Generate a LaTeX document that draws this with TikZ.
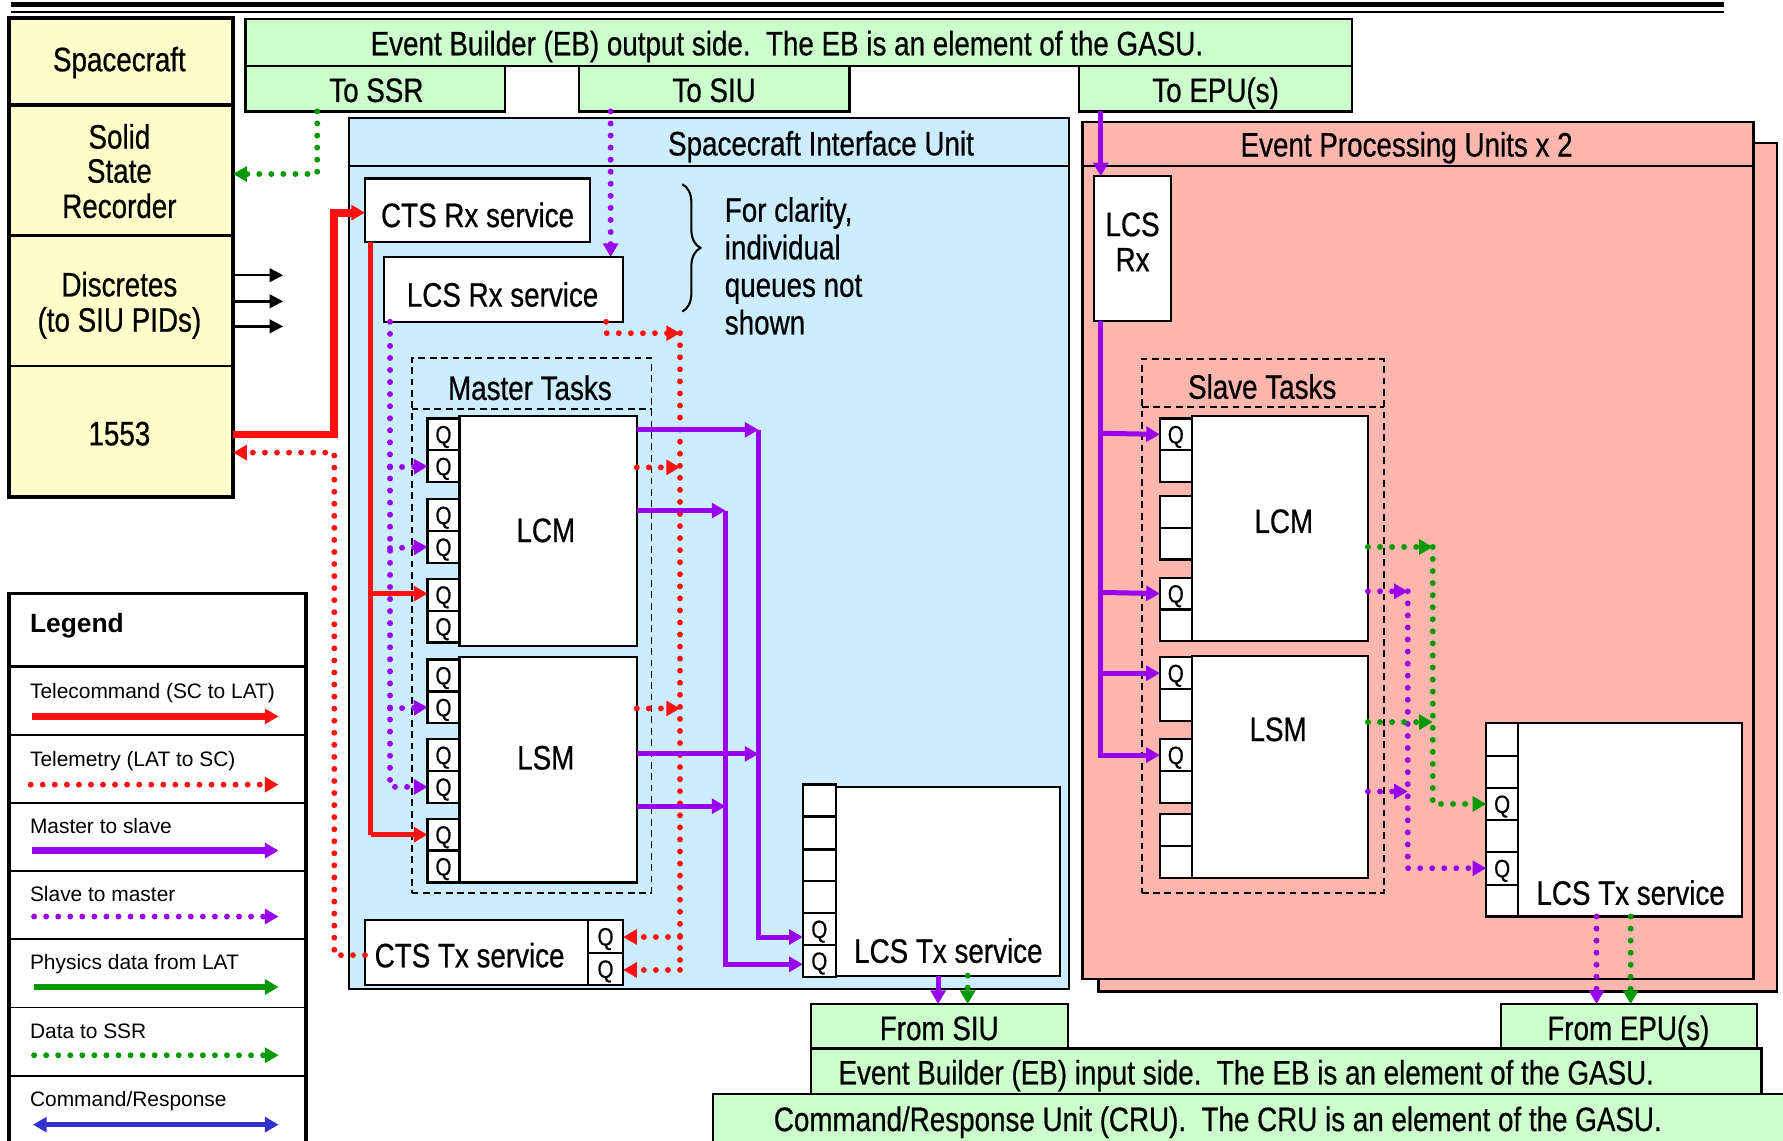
\documentclass[tikz,border=0pt]{standalone}
\usepackage{fontspec}
\setmainfont{Liberation Sans}[FakeStretch=0.82,FakeBold=0.6]
\newfontfamily\legfont{Liberation Sans}
\usetikzlibrary{arrows.meta,decorations.pathreplacing,calc}
\definecolor{scyel}{HTML}{FFFFCC}
\definecolor{ebgrn}{HTML}{CCFFCC}
\definecolor{siublu}{HTML}{CCECFF}
\definecolor{epupnk}{HTML}{FCB6AE}
\definecolor{tcred}{HTML}{FF1111}
\definecolor{mspur}{HTML}{9900EE}
\definecolor{phgrn}{HTML}{009900}
\definecolor{crblu}{HTML}{3333CC}
\newcommand\mainsz{\fontsize{14.9}{17}\selectfont}
\newcommand\qsz{\fontsize{11}{12}\selectfont}
\newcommand\bx[7]{\node[#2, anchor=north west, minimum width={(#5-#3)*0.5pt}, minimum height={(#6-#4)*0.5pt}] (#1) at (#3,#4) {#7};}
\tikzset{
 bxs/.style={draw, line width=1pt, inner sep=0pt, outer sep=0pt},
 wbox/.style={bxs, fill=white},
 ybox/.style={bxs, fill=scyel},
 gbox/.style={bxs, fill=ebgrn},
 sbox/.style={bxs, fill=siublu},
 pbox/.style={bxs, fill=epupnk},
 dbox/.style={draw, line width=0.8pt, dash pattern=on 3pt off 2pt, inner sep=0pt, outer sep=0pt},
 qcell/.style={bxs, fill=white, font=\qsz, text height=7.9pt, text depth=0pt},
 lbl/.style={inner sep=0pt, font=\mainsz, text height=10.65pt, text depth=0pt},
 lgt/.style={inner sep=0pt, font=\legfont\fontsize{9.2}{11}\selectfont, anchor=base west},
 tipa/.style={-{Triangle[length=6pt,width=6.5pt]}},
 solidln/.style={line width=2.2pt, tipa},
 dotln/.style={line width=2.6pt, dash pattern=on 0pt off 5.3pt, line cap=round, tipa},
 rsol/.style={solidln, draw=tcred},
 rdot/.style={dotln, draw=tcred},
 psol/.style={solidln, draw=mspur},
 pdot/.style={dotln, draw=mspur},
 gsol/.style={solidln, draw=phgrn},
 gdot/.style={dotln, draw=phgrn},
 bsol/.style={line width=2.4pt, draw=crblu, {Triangle[length=6pt,width=6.5pt]}-{Triangle[length=6pt,width=6.5pt]}},
 blk/.style={draw=black, line width=1.1pt, -{Triangle[length=6pt,width=6pt]}},
}
\begin{document}
\begin{tikzpicture}[x=0.5pt,y=-0.5pt]
\useasboundingbox (0,0) rectangle (1568,1003);
\fill[white] (0,0) rectangle (1568,1003);
% top rule
\draw[line width=2.5pt] (10,4) -- (1516,4);
\draw[line width=0.8pt] (10,10.5) -- (1516,10.5);

% ---------- Spacecraft column
\bx{sc}{ybox}{8}{16}{205}{92}{}
\bx{ssr}{ybox}{8}{92}{205}{207}{}
\bx{disc}{ybox}{8}{207}{205}{322}{}
\bx{bus1553}{ybox}{8}{322}{205}{437}{}
\draw[line width=1.8pt] (8,16) rectangle (205,437);
\draw[line width=1.8pt] (8,92) -- (205,92);
\node[lbl] (tsc) at (105,52) {Spacecraft};
\node[lbl] (tssr1) at (105,120) {Solid};
\node[lbl] (tssr2) at (105,150) {State};
\node[lbl] (tssr3) at (105,181) {Recorder};
\node[lbl] (tdisc1) at (105,250) {Discretes};
\node[lbl] (tdisc2) at (105,281) {(to SIU PIDs)};
\node[lbl] (t1553) at (105,381) {1553};

% ---------- EB output side
\bx{ebout}{gbox}{216}{17}{1189}{58}{}
\bx{tossr}{gbox}{216}{58}{444}{98}{}
\bx{tosiu}{gbox}{509}{58}{747}{98}{}
\bx{toepu}{gbox}{949}{58}{1189}{98}{}
\node[lbl] (tebout) at (692,38) {Event Builder (EB) output side.\ \ The EB is an element of the GASU.};
\node[lbl] (ttossr) at (331,79) {To SSR};
\node[lbl] (ttosiu) at (628,79) {To SIU};
\node[lbl] (ttoepu) at (1069,79) {To EPU(s)};

% ---------- SIU
\bx{siu}{sbox}{307}{104}{940}{870}{}
\draw[line width=1pt] (307,146) -- (940,146);
\node[lbl] (tsiu) at (722,126) {Spacecraft Interface Unit};
\bx{ctsrx}{wbox}{321}{157}{519}{213}{}
\node[lbl] (tctsrx) at (420,189) {CTS Rx service};
\bx{lcsrx}{wbox}{338}{226}{548}{283}{}
\node[lbl] (tlcsrx) at (442,259) {LCS Rx service};
\draw[decorate, decoration={brace, amplitude=8pt}, line width=0.9pt] (600,162) -- (600,274);
\node[lbl, anchor=base west] (tcl1) at (637,195) {For clarity,};
\node[lbl, anchor=base west] (tcl2) at (637,228) {individual};
\node[lbl, anchor=base west] (tcl3) at (637,261) {queues not};
\node[lbl, anchor=base west] (tcl4) at (637,294) {shown};

\bx{mtasks}{dbox}{362}{315}{573}{785}{}
\draw[dbox] (362,360) -- (573,360);
\node[lbl] (tmt) at (466,341) {Master Tasks};

\bx{lcm}{wbox}{404}{366}{560}{568}{}
\node[lbl] (tlcm) at (480,466) {LCM};
\bx{lcmq1}{qcell}{376}{368}{404}{396}{Q}
\bx{lcmq2}{qcell}{376}{396}{404}{424}{Q}
\bx{lcmq3}{qcell}{376}{439}{404}{467}{Q}
\bx{lcmq4}{qcell}{376}{467}{404}{495}{Q}
\bx{lcmq5}{qcell}{376}{509}{404}{537}{Q}
\bx{lcmq6}{qcell}{376}{537}{404}{565}{Q}

\bx{lsm}{wbox}{404}{578}{560}{776}{}
\node[lbl] (tlsm) at (480,666) {LSM};
\bx{lsmq1}{qcell}{376}{580}{404}{608}{Q}
\bx{lsmq2}{qcell}{376}{608}{404}{636}{Q}
\bx{lsmq3}{qcell}{376}{650}{404}{678}{Q}
\bx{lsmq4}{qcell}{376}{678}{404}{706}{Q}
\bx{lsmq5}{qcell}{376}{720}{404}{748}{Q}
\bx{lsmq6}{qcell}{376}{748}{404}{776}{Q}

\bx{ctstx}{wbox}{321}{809}{517}{866}{}
\node[lbl] (tctstx) at (413,840) {CTS Tx service};
\bx{ctsq1}{qcell}{517}{809}{548}{838}{Q}
\bx{ctsq2}{qcell}{517}{838}{548}{866}{Q}

\bx{stx}{wbox}{735}{692}{932}{858}{}
\node[lbl] (tstx) at (834,836) {LCS Tx service};
\bx{stxq1}{qcell}{706}{690}{735}{718}{}
\bx{stxq2}{qcell}{706}{718}{735}{747}{}
\bx{stxq3}{qcell}{706}{747}{735}{775}{}
\bx{stxq4}{qcell}{706}{775}{735}{803}{}
\bx{stxq5}{qcell}{706}{803}{735}{831}{Q}
\bx{stxq6}{qcell}{706}{831}{735}{859}{Q}

% ---------- EPU
\bx{epub}{pbox}{966}{126}{1563}{872}{}
\bx{epu}{pbox}{952}{107}{1542}{861}{}
\draw[line width=1pt] (952,146) -- (1542,146);
\node[lbl] (tepu) at (1237,127) {Event Processing Units x 2};
\bx{elcsrx}{wbox}{962}{155}{1030}{282}{}
\node[lbl] (telcs1) at (996,197) {LCS};
\node[lbl] (telcs2) at (996,228) {Rx};

\bx{stasks}{dbox}{1004}{316}{1217}{785}{}
\draw[dbox] (1004,358) -- (1217,358);
\node[lbl] (tst) at (1110,340) {Slave Tasks};

\bx{slcm}{wbox}{1048}{366}{1203}{564}{}
\node[lbl] (tslcm) at (1129,458) {LCM};
\bx{slq1}{qcell}{1020}{368}{1048}{396}{Q}
\bx{slq2}{qcell}{1020}{396}{1048}{424}{}
\bx{slq3}{qcell}{1020}{436}{1048}{464}{}
\bx{slq4}{qcell}{1020}{464}{1048}{492}{}
\bx{slq5}{qcell}{1020}{508}{1048}{536}{Q}
\bx{slq6}{qcell}{1020}{536}{1048}{564}{}

\bx{slsm}{wbox}{1048}{577}{1203}{772}{}
\node[lbl] (tslsm) at (1124,641) {LSM};
\bx{ssq1}{qcell}{1020}{578}{1048}{606}{Q}
\bx{ssq2}{qcell}{1020}{606}{1048}{634}{}
\bx{ssq3}{qcell}{1020}{650}{1048}{678}{Q}
\bx{ssq4}{qcell}{1020}{678}{1048}{706}{}
\bx{ssq5}{qcell}{1020}{716}{1048}{744}{}
\bx{ssq6}{qcell}{1020}{744}{1048}{772}{}

\bx{etx}{wbox}{1335}{636}{1532}{806}{}
\node[lbl] (tetx) at (1434,785) {LCS Tx service};
\bx{etq1}{qcell}{1307}{636}{1335}{665}{}
\bx{etq2}{qcell}{1307}{665}{1335}{693}{}
\bx{etq3}{qcell}{1307}{693}{1335}{721}{Q}
\bx{etq4}{qcell}{1307}{721}{1335}{749}{}
\bx{etq5}{qcell}{1307}{749}{1335}{778}{Q}
\bx{etq6}{qcell}{1307}{778}{1335}{806}{}

% ---------- EB input / CRU
\bx{cru}{gbox}{627}{962}{1580}{1015}{}
\bx{ebin}{gbox}{713}{922}{1549}{962}{}
\bx{fromsiu}{gbox}{713}{883}{939}{922}{}
\bx{fromepu}{gbox}{1320}{883}{1545}{922}{}
\node[lbl] (tfromsiu) at (826,904) {From SIU};
\node[lbl] (tfromepu) at (1432,904) {From EPU(s)};
\node[lbl] (tebin) at (1096,943) {Event Builder (EB) input side.\ \ The EB is an element of the GASU.};
\node[lbl] (tcru) at (1071,984) {Command/Response Unit (CRU).\ \ The CRU is an element of the GASU.};

% ---------- junction coordinates
\coordinate (rj1) at (326,522);
\coordinate (tbtop) at (598,293);
\coordinate (tbbot) at (598,853);
\coordinate (tb1) at (598,824);
\coordinate (mj1) at (667,378);
\coordinate (mj2) at (638,449);
\coordinate (sv1) at (343,411);
\coordinate (sv2) at (343,482);
\coordinate (sv3) at (343,623);
\coordinate (eb1) at (968,381);
\coordinate (eb2) at (968,521);
\coordinate (eb3) at (968,592);
\coordinate (ep1) at (1238,520);
\coordinate (eg1) at (1260,481);

% ---------- connectors
% data to SSR
\draw[gdot] (tossr.south -| 279,0) |- (ssr.east |- 0,153);
% discretes
\draw[blk] (disc.east |- 0,242) -- (249,242);
\draw[blk] (disc.east |- 0,265) -- (249,265);
\draw[blk] (disc.east |- 0,287) -- (249,287);
% telecommand
\draw[rsol, line width=3.4pt] (bus1553.east |- 0,382) -| (294,187) -- (ctsrx.west |- 0,187);
\draw[rsol, line width=2pt, -] (ctsrx.south -| 326,0) -- (326,734);
\draw[rsol] (326,734) -- (lsmq5.west |- 0,734);
\draw[rsol] (rj1) -- (lcmq5.west |- 0,522);
% telemetry
\draw[rdot] (ctstx.west |- 0,840) -| (294,398) -- (bus1553.east |- 0,398);
\draw[rdot] (lcsrx.south -| 533,0) |- (tbtop);
\draw[rdot, -] (tbtop) -- (tbbot);
\draw[rdot] (lcm.east |- 0,411) -- (tbtop |- 0,411);
\draw[rdot] (lsm.east |- 0,623) -- (tbtop |- 0,623);
\draw[rdot] (tb1) -- (ctsq1.east |- 0,824);
\draw[rdot] (tbbot) -- (ctsq2.east |- 0,853);
% slave to master (SIU)
\draw[pdot] (tosiu.south -| 537,0) -- (lcsrx.north -| 537,0);
\draw[pdot] (lcsrx.south -| 343,0) |- (lsmq4.west);
\draw[pdot] (sv1) -- (lcmq2.west);
\draw[pdot] (sv2) -- (lcmq4.west);
\draw[pdot] (sv3) -- (lsmq2.west);
% master to slave (SIU)
\draw[psol] (lcm.east |- 0,378) -- (mj1);
\draw[psol] (lcm.east |- 0,449) -- (mj2);
\draw[psol] (lsm.east |- 0,663) -- (mj1 |- 0,663);
\draw[psol] (lsm.east |- 0,709) -- (mj2 |- 0,709);
\draw[psol] (mj1) |- (stxq5.west |- 0,824);
\draw[psol] (mj2) |- (stxq6.west |- 0,848);
\draw[psol] (stx.south -| 825,0) -- (fromsiu.north -| 825,0);
\draw[gdot] (stx.south -| 851,0) -- (fromsiu.north -| 851,0);
% EPU
\draw[psol] (toepu.south -| 968,0) -- (elcsrx.north -| 968,0);
\draw[psol] (elcsrx.south -| 968,0) |- (ssq3.west);
\draw[psol] (eb1) -- (slq1.west);
\draw[psol] (eb2) -- (slq5.west);
\draw[psol] (eb3) -- (ssq1.west);
\draw[pdot] (slcm.east |- 0,520) -- (ep1);
\draw[pdot] (slsm.east |- 0,696) -- (ep1 |- 0,696);
\draw[pdot] (ep1) |- (etq5.west);
\draw[gdot] (slcm.east |- 0,481) -- (eg1);
\draw[gdot] (slsm.east |- 0,635) -- (eg1 |- 0,635);
\draw[gdot] (eg1) |- (etq3.west);
\draw[pdot] (etx.south -| 1404,0) -- (fromepu.north -| 1404,0);
\draw[gdot] (etx.south -| 1434,0) -- (fromepu.north -| 1434,0);

% ---------- Legend
\bx{legend}{bxs, fill=white, line width=1.6pt}{8}{522}{269}{1015}{}
\draw[line width=1.4pt] (8,586) -- (269,586);
\foreach \yy in {646,706,766,826,886,946} \draw[line width=0.8pt] (8,\yy) -- (269,\yy);
\node[lgt, font=\legfont\bfseries\fontsize{11.6}{13}\selectfont] (lg0) at (26,556) {Legend};
\node[lgt] (lg1) at (26,614) {Telecommand (SC to LAT)};
\node[lgt] (lg2) at (26,674) {Telemetry (LAT to SC)};
\node[lgt] (lg3) at (26,733) {Master to slave};
\node[lgt] (lg4) at (26,793) {Slave to master};
\node[lgt] (lg5) at (26,853) {Physics data from LAT};
\node[lgt] (lg6) at (26,913) {Data to SSR};
\node[lgt] (lg7) at (26,973) {Command/Response};
\coordinate (la1) at (28,630);  \coordinate (lb1) at (245,630);
\coordinate (la2) at (27,690);  \coordinate (lb2) at (245,690);
\coordinate (la3) at (28,748);  \coordinate (lb3) at (245,748);
\coordinate (la4) at (30,806);  \coordinate (lb4) at (245,806);
\coordinate (la5) at (30,868);  \coordinate (lb5) at (245,868);
\coordinate (la6) at (30,928);  \coordinate (lb6) at (245,928);
\coordinate (la7) at (29,989);  \coordinate (lb7) at (245,989);
\draw[rsol, line width=2.8pt] (la1) -- (lb1);
\draw[rdot] (la2) -- (lb2);
\draw[psol, line width=2.8pt] (la3) -- (lb3);
\draw[pdot] (la4) -- (lb4);
\draw[gsol, line width=2.8pt] (la5) -- (lb5);
\draw[gdot] (la6) -- (lb6);
\draw[bsol] (la7) -- (lb7);
\end{tikzpicture}
\end{document}
